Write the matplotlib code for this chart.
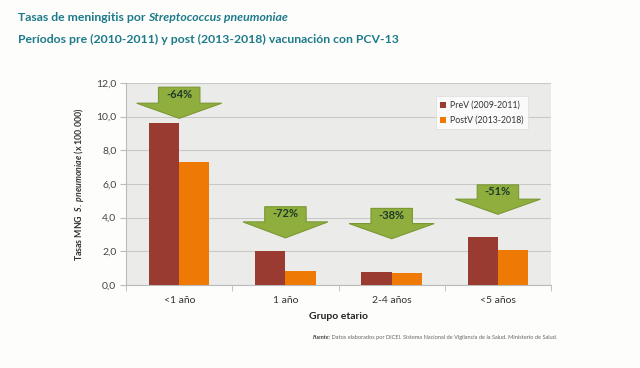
import numpy as np
import matplotlib.pyplot as plt
from matplotlib.patches import Polygon

plt.rcParams['font.family'] = ['Lato', 'DejaVu Sans']
plt.rcParams['mathtext.fontset'] = 'custom'
plt.rcParams['mathtext.it'] = 'Lato:italic:bold'
plt.rcParams['mathtext.rm'] = 'Lato:bold'

categories = ['<1 año', '1 año', '2-4 años', '<5 años']
prev = [9.6, 2.0, 0.78, 2.85]
postv = [7.3, 0.85, 0.72, 2.1]
changes = ['-64%', '-72%', '-38%', '-51%']
# arrow top, head base, tip (data units)
arrow_top = [11.75, 4.65, 4.55, 5.95]
arrow_base = [10.8, 3.75, 3.65, 5.1]
arrow_tip = [9.9, 2.8, 2.75, 4.2]

c_pre = '#9a3b32'
c_post = '#ee7a05'
title_col = '#1d7a8a'

fig = plt.figure(figsize=(6.4, 3.68), dpi=100)
fig.patch.set_facecolor('#fdfdfb')
ax = fig.add_axes([0.197, 0.2255, 0.664, 0.549])
ax.set_facecolor('#ebebe9')

x = np.arange(len(categories))
w = 0.285
ax.bar(x - w / 2, prev, w, color=c_pre, label='PreV (2009-2011)', zorder=3)
ax.bar(x + w / 2, postv, w, color=c_post, label='PostV (2013-2018)', zorder=3)

for i in range(len(categories)):
    s, h = 0.195, 0.40
    pts = [(i - s, arrow_top[i]), (i + s, arrow_top[i]), (i + s, arrow_base[i]),
           (i + h, arrow_base[i]), (i, arrow_tip[i]), (i - h, arrow_base[i]),
           (i - s, arrow_base[i])]
    ax.add_patch(Polygon(pts, closed=True, facecolor='#8fae3e', edgecolor='#7a9834',
                         lw=0.8, zorder=4))
    ax.text(i, (arrow_top[i] + arrow_base[i]) / 2 + 0.05, changes[i], ha='center',
            va='center', fontsize=8, fontweight='bold', color='#1f3b2a', zorder=5)

ax.set_xlim(-0.5, 3.5)
ax.set_ylim(0, 12)
ax.set_yticks(np.arange(0, 12.1, 2))
ax.set_yticklabels([f'{v:.1f}'.replace('.', ',') for v in np.arange(0, 12.1, 2)],
                   fontsize=7.5, color='#444444')
ax.set_xticks(x)
ax.set_xticklabels(categories, fontsize=7.5, color='#333333')
ax.set_xticks(np.arange(-0.5, 3.6, 1), minor=True)
ax.tick_params(axis='x', which='major', length=0, pad=8)
ax.tick_params(axis='x', which='minor', length=4, color='#bbbbbb')
ax.tick_params(axis='y', length=4, color='#bbbbbb', pad=3)
ax.grid(axis='y', color='#c8c8c6', lw=0.8, zorder=1)
for sp in ['top', 'right']:
    ax.spines[sp].set_visible(False)
ax.spines['left'].set_color('#bbbbbb')
ax.spines['bottom'].set_color('#bbbbbb')

ax.set_xlabel('Grupo etario', fontsize=7.5, fontweight='bold', color='#222222', labelpad=5)
ax.set_ylabel(r'Tasas MNG  $\it{S.\ pneumoniae}$ (x 100.000)', fontsize=6.3,
              fontweight='bold', color='#333333', labelpad=7)

leg = ax.legend(loc='upper right', bbox_to_anchor=(0.955, 0.955), fontsize=6.3,
                frameon=True, fancybox=False, handlelength=0.7, handleheight=0.7,
                handletextpad=0.4, borderpad=0.5, labelspacing=0.7)
leg.get_frame().set_edgecolor('#dddddd')
leg.get_frame().set_linewidth(0.6)
for t in leg.get_texts():
    t.set_color('#333333')

t1 = fig.text(0.028, 0.952, 'Tasas de meningitis por ', fontsize=8.8, fontweight='bold',
              color=title_col, va='center')
fig.canvas.draw()
bb = t1.get_window_extent().transformed(fig.transFigure.inverted())
fig.text(bb.x1, 0.952, 'Streptococcus pneumoniae', fontsize=8.8, fontweight='bold',
         style='italic', color=title_col, va='center')
fig.text(0.028, 0.892, 'Períodos pre (2010-2011) y post (2013-2018) vacunación con PCV-13',
         fontsize=8.8, fontweight='bold', color=title_col, va='center')

t2 = fig.text(0.488, 0.083, 'Fuente:', fontsize=4.1, style='italic', fontweight='bold',
              color='#444444', va='center')
fig.canvas.draw()
bb = t2.get_window_extent().transformed(fig.transFigure.inverted())
fig.text(bb.x1, 0.083, ' Datos elaborados por DiCEI. Sistema Nacional de Vigilancia de la Salud. Ministerio de Salud.',
         fontsize=4.1, color='#666666', va='center')

fig.savefig('out.png', dpi=100, facecolor=fig.get_facecolor())
